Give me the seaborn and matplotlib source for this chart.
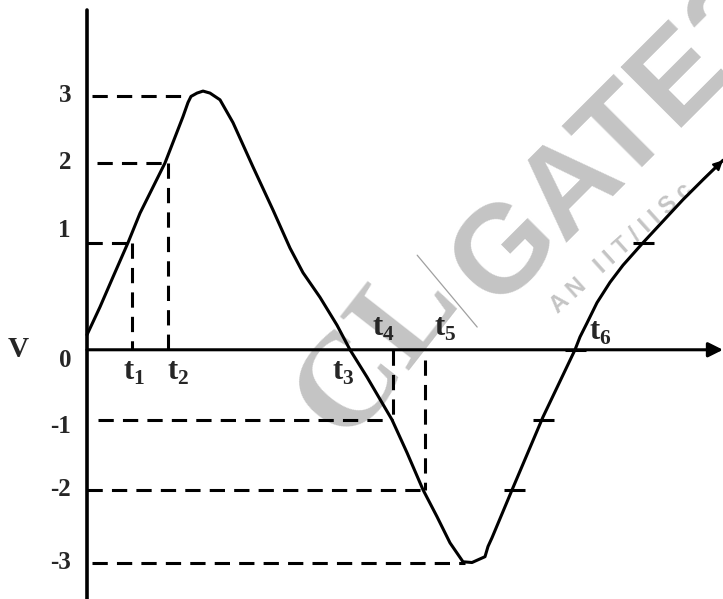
import numpy as np
import pandas as pd
import matplotlib
matplotlib.use("Agg")
import matplotlib.pyplot as plt
import seaborn as sns

# waveform (time in arbitrary units, voltage in V)
t_wave = [0.0, 1.3, 2.6, 4.1, 5.3, 7.8, 9.6, 10.1, 10.4, 11.0, 11.6, 12.3, 13.3,
          14.6, 16.6, 18.6, 20.3, 21.6, 23.3, 25.0, 26.3, 28.0, 30.5, 32.0, 33.6,
          35.0, 36.3, 37.6, 38.5, 39.8, 40.1, 40.5, 42.6, 45.6, 48.8, 49.3, 50.0,
          51.0, 52.3, 53.6, 55.6, 57.6, 59.6, 61.6, 63.6]
v_wave = [0.14, 0.40, 0.68, 1.0, 1.37, 2.0, 2.69, 2.90, 2.99, 3.04, 3.07, 3.04, 2.94,
          2.60, 1.95, 1.41, 0.95, 0.72, 0.49, 0.23, 0.0, -0.39, -1.0, -1.47, -2.0,
          -2.37, -2.73, -2.99, -3.0, -2.92, -2.78, -2.66, -1.97, -0.96, 0.0, 0.12, 0.25,
          0.44, 0.63, 0.79, 1.0, 1.27, 1.54, 1.79, 2.04]

levels = [3, 2, 1, 0, -1, -2, -3]
t_marks = {"t1": 4.5, "t2": 8.1, "t3": 26.3, "t4": 30.6, "t5": 33.8, "t6": 48.8}
tick_t = [42.7, 45.6, 48.8, 55.6]
tick_v = [-2, -1, 0, 1]

# uneven vertical spacing of the hand drawn levels
lev_v = [-20, -3, -2, -1, 0, 1, 2, 3, 20]
lev_p = [-3.04 - 17 * 1.043, -3.04, -2.0, -1.0, 0.0, 1.53, 2.67, 3.63, 3.63 + 17 * 0.957]

def fwd(v):
    return np.interp(v, lev_v, lev_p)

def inv(p):
    return np.interp(p, lev_p, lev_v)

sns.set_style("white")
plt.rcParams["font.family"] = ["Liberation Serif", "DejaVu Serif"]
plt.rcParams["font.weight"] = "bold"
plt.rcParams["mathtext.fontset"] = "custom"
plt.rcParams["mathtext.rm"] = "Liberation Serif:bold"

fig = plt.figure(figsize=(7.23, 5.99), dpi=100)
ax = fig.add_axes([0, 0, 1, 1])
ax.set_yscale("function", functions=(fwd, inv))
ax.set_xlim(-8.7, 63.6)
ax.set_ylim(-3.5, 4.43)

# watermark
wm = "#c4c4c4"
ax.text(0.685, 0.484, "GATE2", transform=ax.transAxes, rotation=45, rotation_mode="anchor",
        fontsize=90, color=wm, family="Liberation Sans", weight="bold", zorder=0)
ax.text(0.48, 0.262, "CL", transform=ax.transAxes, rotation=52, rotation_mode="anchor",
        fontsize=96, color=wm, family="Liberation Serif", weight="bold", zorder=0)
ax.text(0.772, 0.475, "A N   I I T / I I S c", transform=ax.transAxes, rotation=42,
        rotation_mode="anchor", fontsize=17, color=wm, family="Liberation Sans", zorder=0)
ax.plot([0.577, 0.66], [0.574, 0.454], transform=ax.transAxes, color="#a0a0a0", lw=0.9, zorder=0)

lw = 2.2
dash = (0, (5, 3))
sty = dict(color="black", lw=lw, linestyle=dash, zorder=2)

# dashed guides
ax.plot([0.5, 10.3], [3, 3], **sty)
ax.plot([1.0, t_marks["t2"]], [2, 2], **sty)
ax.plot([t_marks["t2"]] * 2, [2, 0], **sty)
ax.plot([0.0, t_marks["t1"]], [1, 1], **sty)
ax.plot([t_marks["t1"]] * 2, [1, 0], **sty)
ax.plot([1.1, t_marks["t4"]], [-1, -1], **sty)
ax.plot([t_marks["t4"]] * 2, [0, -1], **sty)
ax.plot([0.0, t_marks["t5"]], [-2, -2], **sty)
ax.plot([t_marks["t5"]] * 2, [-0.15, -2], **sty)
ax.plot([0.5, 37.8], [-3, -3], **sty)

# waveform
df = pd.DataFrame({"t": t_wave, "v": v_wave})
sns.lineplot(data=df, x="t", y="v", sort=False, color="black", lw=lw, ax=ax, zorder=3)
ax.annotate("", xy=(t_wave[-1], v_wave[-1]), xytext=(t_wave[-2], v_wave[-2]),
            arrowprops=dict(arrowstyle="-|>", color="black", lw=1.5, mutation_scale=14,
                            shrinkA=0, shrinkB=0), zorder=3)
ax.hlines(tick_v, [t - 1.05 for t in tick_t], [t + 1.05 for t in tick_t],
          color="black", lw=lw, zorder=3)

# axes
ax.plot([0, 0], [-3.5, 4.28], color="black", lw=2.6, zorder=4)
ax.annotate("", xy=(63.6, 0), xytext=(0, 0),
            arrowprops=dict(arrowstyle="-|>", color="black", lw=lw, mutation_scale=22,
                            shrinkA=0, shrinkB=0), zorder=4)

# labels
fs = 18
for v in levels:
    dy = {1: 9, 0: -8, -1: -5}.get(v, 0)
    ax.annotate(str(v), (-1.6, v), xytext=(0, dy), textcoords="offset points",
                ha="right", va="center", fontsize=fs, weight="bold")
ax.text(-6.9, 0, "V", ha="center", va="center", fontsize=21, weight="bold")

t_lab_pos = {"t1": (4.7, -0.33), "t2": (9.1, -0.33), "t3": (25.6, -0.33),
             "t4": (29.6, 0.2), "t5": (35.8, 0.2), "t6": (51.3, 0.16)}
for k, (tx, vy) in t_lab_pos.items():
    ax.text(tx, vy, r"$\mathrm{t}_{\mathrm{%s}}$" % k[1], ha="center", va="center",
            fontsize=22)

ax.set_axis_off()
fig.savefig("out.png", dpi=100)
